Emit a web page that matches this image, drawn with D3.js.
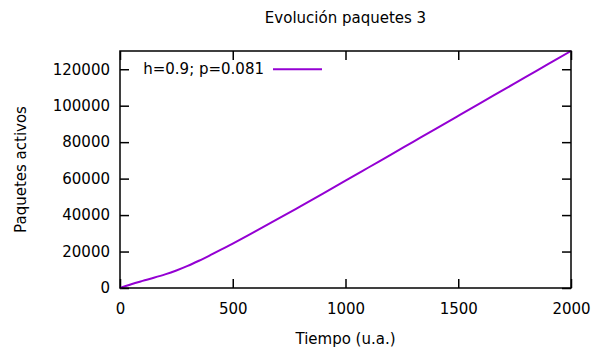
<!DOCTYPE html>
<html>
<head>
<meta charset="utf-8">
<script src="https://cdn.jsdelivr.net/npm/d3@7"></script>
<style>
  body { margin: 0; background: #fff; }
  text { font-family: "DejaVu Sans", Verdana, sans-serif; font-size: 15px; fill: #000; }
</style>
</head>
<body>
<div id="chart"></div>
<script>
// datos
var tiempo = [0, 50, 100, 150, 200, 250, 300, 350, 400, 450, 500, 600, 700, 800, 900,
              1000, 1100, 1200, 1300, 1400, 1500, 1600, 1700, 1800, 1900, 2000];
var paquetes = [0, 2100, 3900, 5600, 7450, 9600, 12100, 14950, 18000, 21150, 24400, 31050, 37850, 44800, 51800,
                58850, 65960, 73080, 80190, 87300, 94420, 101540, 108650, 115770, 122880, 130000];
var xTicks = [0, 500, 1000, 1500, 2000];
var yTicks = [0, 20000, 40000, 60000, 80000, 100000, 120000];
var leyenda = "h=0.9; p=0.081";

var width = 594, height = 353;
var margin = {left: 120, right: 23, top: 51, bottom: 65};
var tickLen = 9;
var color = "#9400d3";

var svg = d3.select("#chart").append("svg")
  .attr("width", width)
  .attr("height", height);

var x = d3.scaleLinear().domain([0, 2000]).range([margin.left, width - margin.right]);
var y = d3.scaleLinear().domain([0, 130000]).range([height - margin.bottom, margin.top]);

var x0 = x.range()[0], x1 = x.range()[1];
var y0 = y.range()[0], y1 = y.range()[1];

// ejes abajo e izquierda con marcas hacia dentro
svg.append("g")
  .attr("transform", "translate(0," + y0 + ")")
  .call(d3.axisBottom(x).tickValues(xTicks).tickSize(-tickLen).tickPadding(tickLen + 6).tickFormat(d3.format("d")))
  .call(function(g) { g.select(".domain").remove(); });

svg.append("g")
  .attr("transform", "translate(" + x0 + ",0)")
  .call(d3.axisLeft(y).tickValues(yTicks).tickSize(-tickLen).tickPadding(tickLen + 1).tickFormat(d3.format("d")))
  .call(function(g) { g.select(".domain").remove(); });

// marcas espejo arriba y derecha
svg.append("g")
  .attr("transform", "translate(0," + y1 + ")")
  .call(d3.axisTop(x).tickValues(xTicks).tickSize(-tickLen).tickFormat(""))
  .call(function(g) { g.select(".domain").remove(); });

svg.append("g")
  .attr("transform", "translate(" + x1 + ",0)")
  .call(d3.axisRight(y).tickValues(yTicks).tickSize(-tickLen).tickFormat(""))
  .call(function(g) { g.select(".domain").remove(); });

svg.selectAll(".tick line").attr("stroke", "#000").attr("stroke-width", 1.5);
svg.selectAll(".tick text")
  .style("font-family", "'DejaVu Sans', Verdana, sans-serif")
  .style("font-size", "15px")
  .attr("fill", "#000");

// curva
var line = d3.line()
  .x(function(d, i) { return x(tiempo[i]); })
  .y(function(d) { return y(d); })
  .curve(d3.curveCatmullRom);

svg.append("path")
  .datum(paquetes)
  .attr("fill", "none")
  .attr("stroke", color)
  .attr("stroke-width", 2)
  .attr("d", line);

// marco
svg.append("rect")
  .attr("x", x0).attr("y", y1)
  .attr("width", x1 - x0).attr("height", y0 - y1)
  .attr("fill", "none")
  .attr("stroke", "#000")
  .attr("stroke-width", 1.5);

// titulo y etiquetas
svg.append("text")
  .attr("x", (x0 + x1) / 2).attr("y", 23)
  .attr("text-anchor", "middle")
  .text("Evolución paquetes 3");

svg.append("text")
  .attr("x", (x0 + x1) / 2).attr("y", 344)
  .attr("text-anchor", "middle")
  .text("Tiempo (u.a.)");

svg.append("text")
  .attr("transform", "translate(26," + (y0 + y1) / 2 + ") rotate(-90)")
  .attr("text-anchor", "middle")
  .text("Paquetes activos");

// leyenda
var ly = y(120000);
svg.append("text")
  .attr("x", 264).attr("y", ly)
  .attr("dy", "0.35em")
  .attr("text-anchor", "end")
  .text(leyenda);

svg.append("line")
  .attr("x1", 273).attr("x2", 322)
  .attr("y1", ly).attr("y2", ly)
  .attr("stroke", color)
  .attr("stroke-width", 2);
</script>
</body>
</html>
